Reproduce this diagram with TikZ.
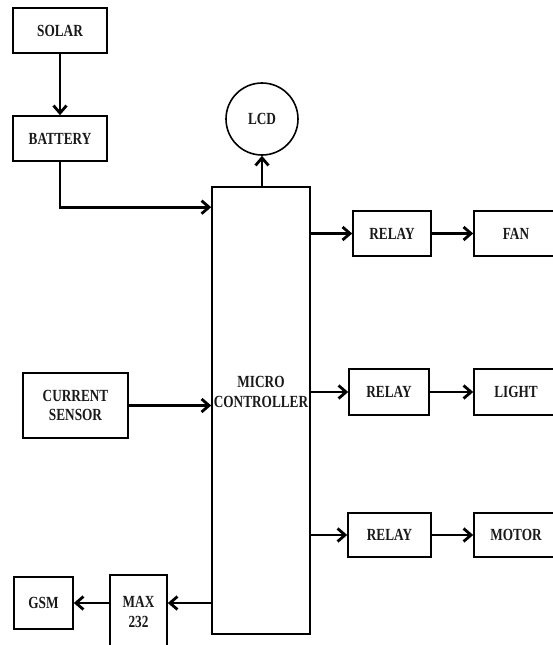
\documentclass[tikz,border=0pt]{standalone}
\usepackage{fontspec}
\setmainfont{Liberation Serif}[FakeStretch=0.78]
\usetikzlibrary{arrows.meta,positioning}

\begin{document}
\begin{tikzpicture}[x=1pt,y=-1pt,>={Straight Barb[length=7.5pt,width=13pt]},
  blk/.style={draw,line width=1.6pt,align=center,inner sep=0pt,
    font=\bfseries\fontsize{17}{19.5}\selectfont,text=black!90},
  arr/.style={->,line width=2.8pt}]
  \useasboundingbox (0,0) rectangle (552,645);
  % power side
  \node[blk,minimum width=94pt,minimum height=45pt] (solar) at (60,30.5) {SOLAR};
  \node[blk,minimum width=94pt,minimum height=45pt] (battery) at (60,138.5) {BATTERY};
  \node[blk,circle,minimum size=72pt] (lcd) at (262,119) {LCD};
  \node[blk,minimum width=98pt,minimum height=447pt] (mc) at (261,410.5) {};
  \node[blk,draw=none] (mctext) at (mc |- 0,392) {MICRO\\CONTROLLER};
  \node[blk,minimum width=105pt,minimum height=65pt] (sensor) at (75.5,405.5) {CURRENT\\SENSOR};
  % outputs
  \node[blk,minimum width=78pt,minimum height=45pt] (relayA) at (392,233.5) {RELAY};
  \node[blk,minimum width=80pt,minimum height=46pt] (relayB) at (389,392) {RELAY};
  \node[blk,minimum width=83pt,minimum height=44pt] (relayC) at (389.5,535) {RELAY};
  \node[blk,minimum width=84pt,minimum height=45pt] (fan) at (516,233.5) {FAN};
  \node[blk,minimum width=84pt,minimum height=46pt] (light) at (516,392) {LIGHT};
  \node[blk,minimum width=84pt,minimum height=44pt] (motor) at (516,535) {MOTOR};
  \node[blk,minimum width=59pt,minimum height=52pt] (gsm) at (43.5,603) {GSM};
  \node[blk,minimum width=57pt,minimum height=74pt] (max) at (138.5,612) {MAX\\232};

  \draw[arr] (solar) -- (battery);
  \draw[arr] (battery) |- ([yshift=-21pt]mc.north west);
  \draw[arr] (sensor) -- (sensor -| mc.west);
  \draw[arr] (mc.north -| lcd) -- (lcd);
  \draw[arr] (relayA -| mc.east) -- (relayA);
  \draw[arr] (relayB -| mc.east) -- (relayB);
  \draw[arr] (relayC -| mc.east) -- (relayC);
  \draw[arr] (relayA) -- (fan);
  \draw[arr] (relayB) -- (light);
  \draw[arr] (relayC) -- (motor);
  \draw[arr] (gsm -| mc.west) -- (gsm -| max.east);
  \draw[arr] (gsm -| max.west) -- (gsm);
\end{tikzpicture}
\end{document}
